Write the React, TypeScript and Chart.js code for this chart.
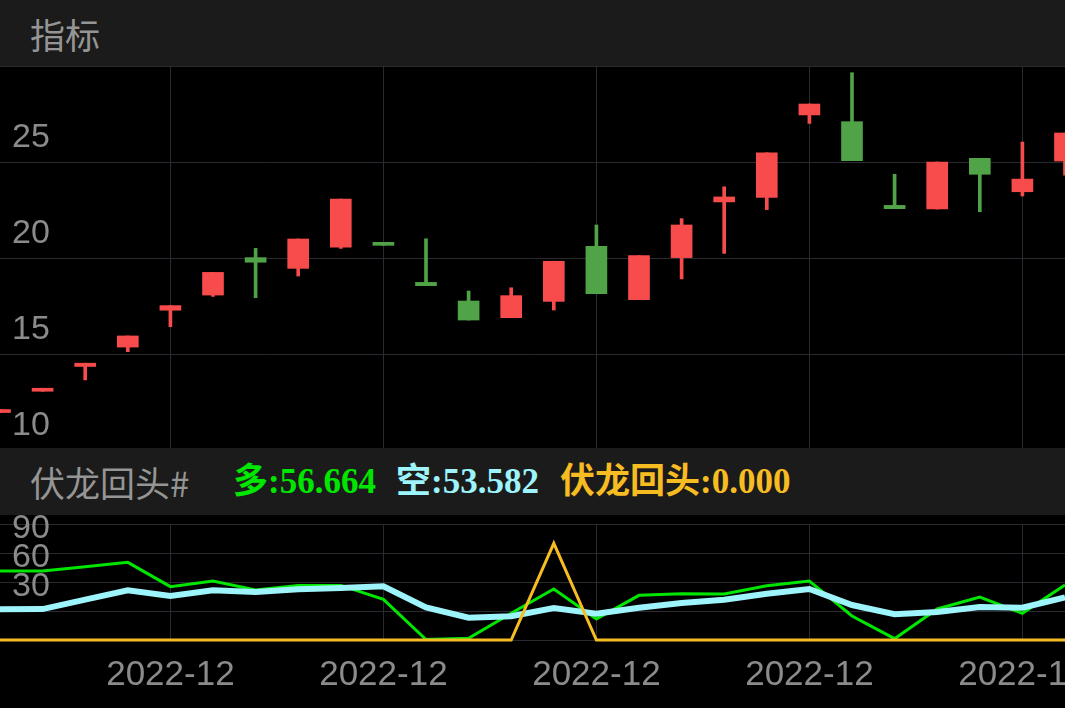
import React, { useEffect, useRef } from 'react';
import { Chart, registerables } from 'chart.js';

Chart.register(...registerables);

// ---- data ----
const periods = [
  '2022-12', '2022-12', '2022-12', '2022-12', '2022-12', '2022-12', '2022-12',
  '2022-12', '2022-12', '2022-12', '2022-12', '2022-12', '2022-12', '2022-12',
  '2022-12', '2022-12', '2022-12', '2022-12', '2022-12', '2022-12', '2022-12',
  '2022-12', '2022-12', '2022-12', '2022-12', '2022-12',
];
const axisLabelIndex = [4, 9, 14, 19, 24];

const openPrices = [11.95, 13.06, 14.35, 15.36, 17.28, 18.07, 20.02, 19.46, 20.56, 20.77, 18.73, 17.76, 16.89,
  17.74, 20.61, 17.83, 20.02, 22.92, 23.16, 27.45, 27.1, 22.74, 22.55, 25.19, 23.45, 25.05];
const closePrices = [12.05, 13.2, 14.52, 15.94, 17.52, 19.25, 19.78, 20.99, 23.07, 20.66, 18.56, 16.77, 18.04,
  19.83, 18.14, 20.12, 21.72, 23.18, 25.48, 28.02, 25.07, 22.57, 25.0, 24.36, 24.11, 26.51];
const highPrices = [12.05, 13.2, 14.52, 15.94, 17.52, 19.25, 20.5, 20.99, 23.07, 20.77, 21.0, 18.28, 18.45,
  19.83, 21.72, 20.12, 22.05, 23.71, 25.48, 28.02, 29.65, 24.36, 25.0, 25.19, 26.04, 26.51];
const lowPrices = [11.95, 13.06, 13.65, 15.12, 16.42, 18.0, 17.93, 19.06, 20.5, 20.66, 18.56, 16.77, 16.89,
  17.29, 18.14, 17.83, 18.91, 20.24, 22.52, 27.01, 25.07, 22.57, 22.55, 22.41, 23.23, 24.32];

const duoValues = [71.4, 71.4, 75.8, 80.3, 55.2, 61.0, 51.7, 56.5, 56.5, 42.1, 0.5, 1.7, 27.6, 52.7, 21.7,
  46.2, 47.9, 47.6, 56.2, 61.0, 24.8, 1.4, 32.1, 44.5, 27.6, 57.0];
const kongValues = [31.7, 32.0, 41.7, 51.4, 45.5, 51.4, 49.7, 52.4, 53.8, 55.5, 33.8, 23.1, 24.5, 33.1, 27.2,
  33.4, 38.3, 41.7, 47.9, 52.8, 36.2, 26.6, 29.0, 34.1, 33.4, 44.1];
const fuLongValues = [0, 0, 0, 0, 0, 0, 0, 0, 0, 0, 0, 0, 0, 100, 0, 0, 0, 0, 0, 0, 0, 0, 0, 0, 0, 0];

const priceTickLabels = [10, 15, 20, 25];
const indicatorTickLabels = [30, 60, 90];

const panelTitle = '指标';
const indicatorName = '伏龙回头#';
const legendDuo = '多:56.664';
const legendKong = '空:53.582';
const legendFuLong = '伏龙回头:0.000';

// ---- styles ----
const GRID = '#2a2a31';
const UP = '#f84b4b';
const DOWN = '#50a347';
const AXIS_TEXT = '#8b8b8b';
const HEADER_BG = '#1b1b1b';
const HEADER_TEXT = '#959595';
const DUO_COLOR = '#00e600';
const KONG_COLOR = '#9ef4fb';
const FULONG_COLOR = '#f6bc22';
const sansFont = '"Liberation Sans", Arial, sans-serif';
const cjkFont = '"Noto Sans CJK SC", sans-serif';

const xGridColor = (ctx: any) => (axisLabelIndex.includes(ctx.index) ? GRID : 'rgba(0,0,0,0)');

const zeroPadding = (s: any) => {
  s.paddingTop = 0;
  s.paddingBottom = 0;
  s.paddingLeft = 0;
  s.paddingRight = 0;
};

export default function App() {
  const topRef = useRef<HTMLCanvasElement | null>(null);
  const bottomRef = useRef<HTMLCanvasElement | null>(null);

  useEffect(() => {
    const candleColors = openPrices.map((o, i) => (closePrices[i] >= o ? UP : DOWN));

    const top = new Chart(topRef.current as HTMLCanvasElement, {
      type: 'bar',
      data: {
        labels: periods,
        datasets: [
          {
            label: 'body',
            data: openPrices.map((o, i) => [o, closePrices[i]]) as any,
            backgroundColor: candleColors,
            borderWidth: 0,
            barThickness: 21,
            minBarLength: 3,
            grouped: false,
            order: 0,
          } as any,
          {
            label: 'wick',
            data: lowPrices.map((l, i) => [l, highPrices[i]]) as any,
            backgroundColor: candleColors,
            borderWidth: 0,
            barThickness: 3,
            minBarLength: 3,
            grouped: false,
            order: 1,
          } as any,
        ],
      },
      options: {
        responsive: false,
        animation: false,
        events: [],
        layout: { padding: 0 },
        plugins: { legend: { display: false }, tooltip: { enabled: false } },
        scales: {
          x: {
            type: 'category',
            offset: false,
            grid: { color: xGridColor, offset: false, drawTicks: false, lineWidth: 1 },
            border: { display: false },
            ticks: { display: false, autoSkip: false },
            afterFit: (s: any) => { s.height = 0; zeroPadding(s); },
          },
          y: {
            min: 10,
            max: 30,
            grid: { color: GRID, drawTicks: false, lineWidth: 1 },
            border: { display: false },
            ticks: {
              stepSize: 5,
              autoSkip: false,
              mirror: true,
              padding: 12,
              labelOffset: -24,
              color: AXIS_TEXT,
              font: { family: sansFont, size: 34 },
              callback: (v: any) => (priceTickLabels.includes(Number(v)) ? String(v) : ''),
            },
            afterFit: (s: any) => { s.width = 0; zeroPadding(s); },
          },
        },
      } as any,
    });

    const bottom = new Chart(bottomRef.current as HTMLCanvasElement, {
      type: 'line',
      data: {
        labels: periods,
        datasets: [
          { label: '多', data: duoValues, borderColor: DUO_COLOR, borderWidth: 3, pointRadius: 0, tension: 0, fill: false, clip: 4, order: 3 },
          { label: '空', data: kongValues, borderColor: KONG_COLOR, borderWidth: 6, pointRadius: 0, tension: 0, fill: false, clip: 4, order: 2 },
          { label: '伏龙回头', data: fuLongValues, borderColor: FULONG_COLOR, borderWidth: 3, pointRadius: 0, tension: 0, fill: false, clip: 4, order: 1 },
        ],
      },
      options: {
        responsive: false,
        animation: false,
        events: [],
        layout: { padding: { top: 9, left: 0, right: 0, bottom: 0 } },
        plugins: { legend: { display: false }, tooltip: { enabled: false } },
        scales: {
          x: {
            type: 'category',
            offset: false,
            grid: { color: xGridColor, offset: false, drawTicks: false, lineWidth: 1 },
            border: { display: false },
            ticks: {
              autoSkip: false,
              maxRotation: 0,
              minRotation: 0,
              padding: 14,
              color: AXIS_TEXT,
              font: { family: sansFont, size: 35 },
              callback: (_v: any, i: number) => (axisLabelIndex.includes(i) ? periods[i] : ''),
            },
            afterFit: (s: any) => { s.height = 68; zeroPadding(s); },
          },
          y: {
            min: 0,
            max: 120,
            grid: { color: GRID, drawTicks: false, lineWidth: 1 },
            border: { display: false },
            ticks: {
              stepSize: 30,
              autoSkip: false,
              mirror: true,
              padding: 12,
              labelOffset: -24,
              color: AXIS_TEXT,
              font: { family: sansFont, size: 34 },
              callback: (v: any) => (indicatorTickLabels.includes(Number(v)) ? String(v) : ''),
            },
            afterFit: (s: any) => { s.width = 0; zeroPadding(s); },
          },
        },
      } as any,
    });

    return () => {
      top.destroy();
      bottom.destroy();
    };
  }, []);

  const legendSpan = (left: number, color: string, text: string) => (
    <div
      style={{
        position: 'absolute',
        left,
        top: 0,
        height: 67,
        display: 'flex',
        alignItems: 'center',
        color,
        fontFamily: '"Liberation Serif", "Noto Sans CJK SC", serif',
        fontWeight: 700,
        fontSize: 35,
        lineHeight: 1,
        whiteSpace: 'nowrap',
      }}
    >
      {text}
    </div>
  );

  return (
    <div style={{ position: 'fixed', left: 0, top: 0, width: 1065, height: 708, background: '#000', overflow: 'hidden' }}>
      <div
        style={{
          position: 'absolute', left: 0, top: 0, width: 1065, height: 66, background: HEADER_BG,
          display: 'flex', alignItems: 'center', paddingLeft: 30, boxSizing: 'border-box',
          color: HEADER_TEXT, fontFamily: cjkFont, fontSize: 35, lineHeight: 1,
        }}
      >
        {panelTitle}
      </div>
      <canvas ref={topRef} width={1065} height={384} style={{ position: 'absolute', left: 0, top: 66, display: 'block' }} />
      <canvas ref={bottomRef} width={1065} height={193} style={{ position: 'absolute', left: 0, top: 515, display: 'block' }} />
      <div style={{ position: 'absolute', left: 0, top: 448, width: 1065, height: 67, background: HEADER_BG }}>
        <div
          style={{
            position: 'absolute', left: 30, top: 0, height: 67, display: 'flex', alignItems: 'center',
            color: HEADER_TEXT, fontFamily: cjkFont, fontSize: 35, lineHeight: 1, whiteSpace: 'nowrap',
          }}
        >
          {indicatorName}
        </div>
        {legendSpan(233, DUO_COLOR, legendDuo)}
        {legendSpan(396, KONG_COLOR, legendKong)}
        {legendSpan(560, FULONG_COLOR, legendFuLong)}
      </div>
    </div>
  );
}
